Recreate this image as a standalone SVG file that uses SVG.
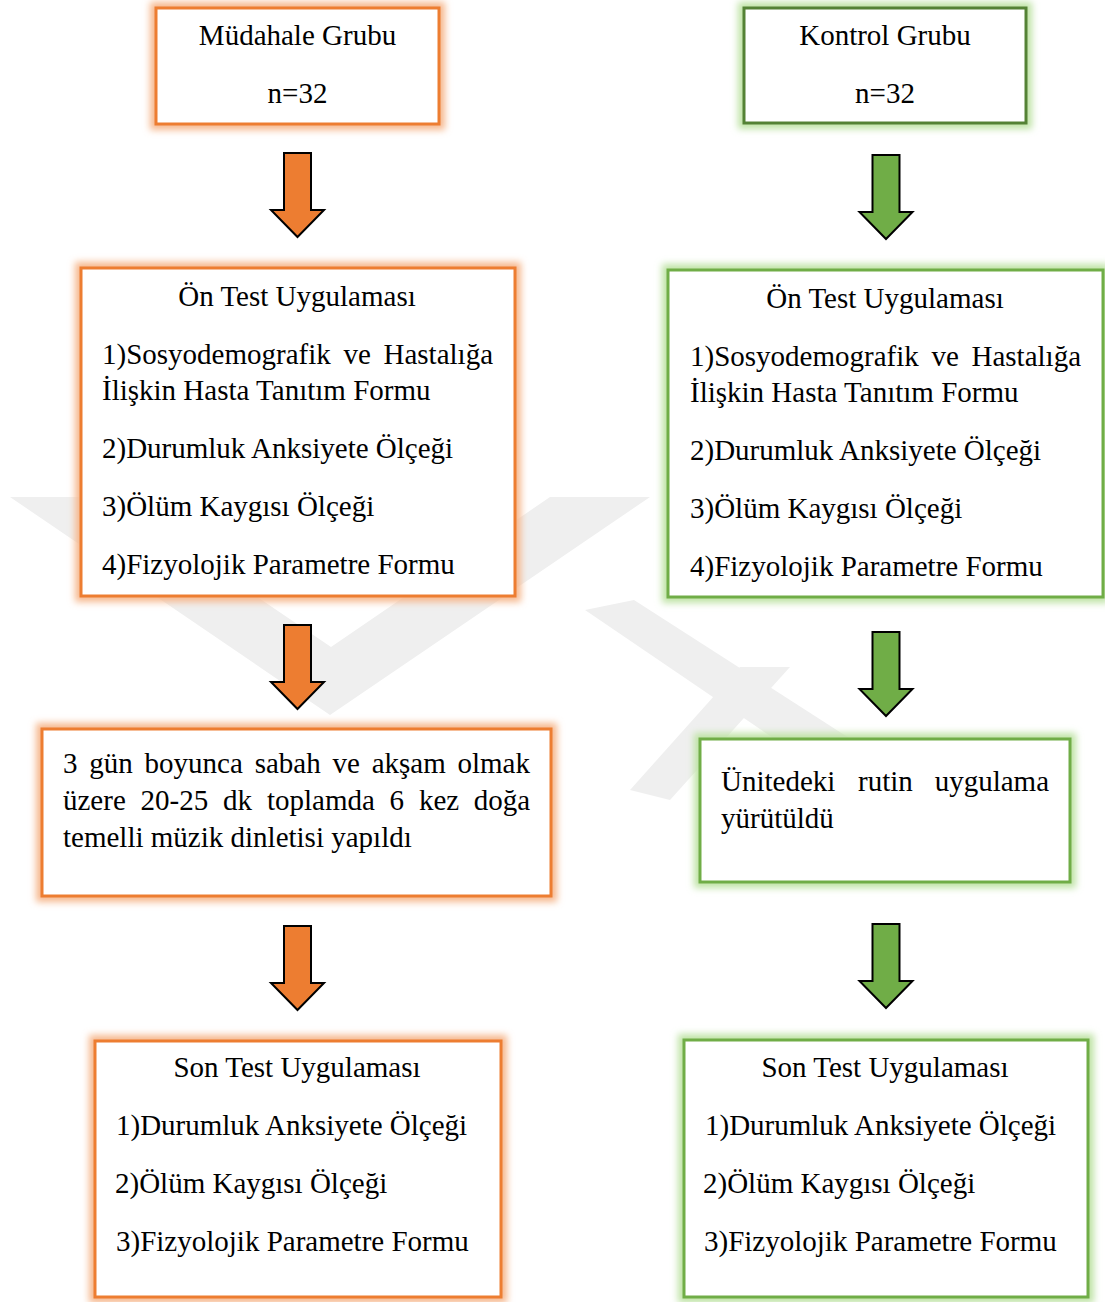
<svg xmlns="http://www.w3.org/2000/svg" xmlns:xlink="http://www.w3.org/1999/xlink" width="1105" height="1302" viewBox="0 0 1105 1302">
<style>
  text { font-family: "Liberation Serif", "Times New Roman", serif; font-size: 29px; fill: #000; }
  .c { text-anchor: middle; }
  .e { text-anchor: end; }
  .box { fill: #fff; stroke-width: 3; }
  .ob { stroke: #ED7D31; }
  .gb { stroke: #70AD47; }
  .gbd { stroke: #548235; }
  .og { fill: none; stroke: #F6B88E; stroke-width: 12; }
  .gg { fill: none; stroke: #BFE3A6; stroke-width: 12; }
  .wm { fill: #EFEFEF; }
  .ao { fill: #ED7D31; stroke: #000; stroke-width: 2; }
  .ag { fill: #70AD47; stroke: #000; stroke-width: 2; }
</style>
<defs>
  <filter id="glow" x="-20%" y="-20%" width="140%" height="140%">
    <feGaussianBlur stdDeviation="3.5"/>
  </filter>
  <path id="arr" d="M-13.5,0 H13.5 V57 H26.5 L0,84 L-26.5,57 H-13.5 Z"/>
</defs>
<rect width="1105" height="1302" fill="#fff"/>
<g id="watermark">
  <polygon class="wm" points="10,497 110,497 331,647 550,497 650,497 330,715"/>
  <polygon class="wm" points="585,610 634,600 860,745 820,770"/>
  <polygon class="wm" points="740,667 790,667 670,800 630,790"/>
</g>
<g id="connectors">
  <use xlink:href="#arr" class="ao" x="297.5" y="153"/>
  <use xlink:href="#arr" class="ag" x="886" y="155"/>
  <use xlink:href="#arr" class="ao" x="297.5" y="625"/>
  <use xlink:href="#arr" class="ag" x="886" y="632"/>
  <use xlink:href="#arr" class="ao" x="297.5" y="926"/>
  <use xlink:href="#arr" class="ag" x="886" y="924"/>
</g>
<g id="mudahale-grubu">
  <rect class="og" x="156" y="8" width="283" height="116" filter="url(#glow)"/>
  <rect class="box ob" x="156" y="8" width="283" height="116"/>
  <text class="c" x="297.5" y="45">Müdahale Grubu</text>
  <text class="c" x="297.5" y="103">n=32</text>
</g>
<g id="kontrol-grubu">
  <rect class="gg" x="744" y="8" width="282" height="115" filter="url(#glow)"/>
  <rect class="box gbd" x="744" y="8" width="282" height="115"/>
  <text class="c" x="885" y="45">Kontrol Grubu</text>
  <text class="c" x="885" y="103">n=32</text>
</g>
<g id="on-test-mudahale">
  <rect class="og" x="81" y="268" width="434" height="328" filter="url(#glow)"/>
  <rect class="box ob" x="81" y="268" width="434" height="328"/>
  <text class="c" x="297" y="306">Ön Test Uygulaması</text>
  <text y="364"><tspan x="102">1)Sosyodemografik</tspan><tspan x="343.5">ve</tspan></text>
  <text class="e" x="493" y="364">Hastalığa</text>
  <text x="102" y="400">İlişkin Hasta Tanıtım Formu</text>
  <text x="102" y="458">2)Durumluk Anksiyete Ölçeği</text>
  <text x="102" y="516">3)Ölüm Kaygısı Ölçeği</text>
  <text x="102" y="574">4)Fizyolojik Parametre Formu</text>
</g>
<g id="on-test-kontrol">
  <rect class="gg" x="668" y="270" width="435" height="327" filter="url(#glow)"/>
  <rect class="box gb" x="668" y="270" width="435" height="327"/>
  <text class="c" x="885" y="308">Ön Test Uygulaması</text>
  <text y="366"><tspan x="690">1)Sosyodemografik</tspan><tspan x="931.5">ve</tspan></text>
  <text class="e" x="1081" y="366">Hastalığa</text>
  <text x="690" y="402">İlişkin Hasta Tanıtım Formu</text>
  <text x="690" y="460">2)Durumluk Anksiyete Ölçeği</text>
  <text x="690" y="518">3)Ölüm Kaygısı Ölçeği</text>
  <text x="690" y="576">4)Fizyolojik Parametre Formu</text>
</g>
<g id="muzik-dinletisi">
  <rect class="og" x="42" y="729" width="509" height="167" filter="url(#glow)"/>
  <rect class="box ob" x="42" y="729" width="509" height="167"/>
  <text y="773"><tspan x="63">3</tspan><tspan x="89.3">gün</tspan><tspan x="144.6">boyunca</tspan><tspan x="254.7">sabah</tspan><tspan x="332.5">ve</tspan><tspan x="371.7">akşam</tspan></text>
  <text class="e" x="530" y="773">olmak</text>
  <text y="810"><tspan x="63">üzere</tspan><tspan x="140.6">20-25</tspan><tspan x="223.1">dk</tspan><tspan x="266.9">toplamda</tspan><tspan x="389.6">6</tspan><tspan x="418.9">kez</tspan></text>
  <text class="e" x="530" y="810">doğa</text>
  <text x="63" y="847">temelli müzik dinletisi yapıldı</text>
</g>
<g id="rutin-uygulama">
  <rect class="gg" x="700" y="739" width="370" height="143" filter="url(#glow)"/>
  <rect class="box gb" x="700" y="739" width="370" height="143"/>
  <text y="791"><tspan x="721">Ünitedeki</tspan><tspan x="858">rutin</tspan></text>
  <text class="e" x="1049" y="791">uygulama</text>
  <text x="721" y="828">yürütüldü</text>
</g>
<g id="son-test-mudahale">
  <rect class="og" x="95" y="1041" width="406" height="256" filter="url(#glow)"/>
  <rect class="box ob" x="95" y="1041" width="406" height="256"/>
  <text class="c" x="297" y="1077">Son Test Uygulaması</text>
  <text x="116" y="1135">1)Durumluk Anksiyete Ölçeği</text>
  <text x="115" y="1193">2)Ölüm Kaygısı Ölçeği</text>
  <text x="116" y="1251">3)Fizyolojik Parametre Formu</text>
</g>
<g id="son-test-kontrol">
  <rect class="gg" x="684" y="1040" width="404" height="257" filter="url(#glow)"/>
  <rect class="box gb" x="684" y="1040" width="404" height="257"/>
  <text class="c" x="885" y="1077">Son Test Uygulaması</text>
  <text x="705" y="1135">1)Durumluk Anksiyete Ölçeği</text>
  <text x="703" y="1193">2)Ölüm Kaygısı Ölçeği</text>
  <text x="704" y="1251">3)Fizyolojik Parametre Formu</text>
</g>
</svg>
